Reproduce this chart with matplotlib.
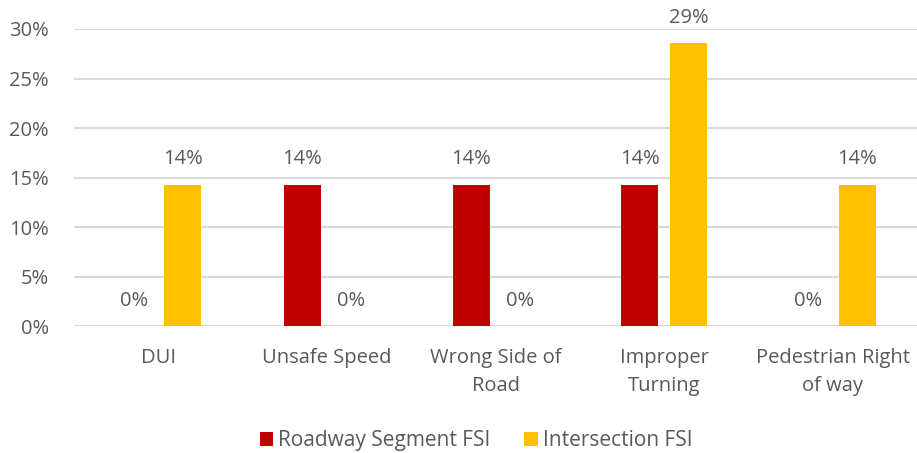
import matplotlib
matplotlib.use("Agg")
import matplotlib.pyplot as plt
import numpy as np
from matplotlib.ticker import PercentFormatter, MultipleLocator

categories = ["DUI", "Unsafe Speed", "Wrong Side of\nRoad", "Improper\nTurning", "Pedestrian Right\nof way"]
roadway = [0.0, 1/7, 1/7, 1/7, 0.0]
intersection = [1/7, 0.0, 0.0, 2/7, 1/7]
series_names = ["Roadway Segment FSI", "Intersection FSI"]
colors = ["#C00000", "#FFC000"]

plt.rcParams['font.family'] = ['Open Sans', 'DejaVu Sans']
txt = "#595959"
fs = 14.5

fig = plt.figure(figsize=(9.17, 4.53), dpi=100)
ax = fig.add_axes([0.0807, 0.280, 0.9193, 0.656])

x = np.arange(len(categories))
w = 0.22
off = 0.145
for vals, dx, c, name in [(roadway, -off, colors[0], series_names[0]), (intersection, off, colors[1], series_names[1])]:
    bars = ax.bar(x + dx, vals, width=w, color=c, label=name, zorder=3)
    for b, v in zip(bars, vals):
        ax.annotate(f"{v*100:.0f}%", (b.get_x() + b.get_width()/2, v),
                    xytext=(0, 11), textcoords="offset points",
                    ha="center", va="bottom", fontsize=fs, color=txt)

ax.set_xlim(-0.5, len(categories) - 0.5)
ax.set_ylim(0, 0.30)
ax.yaxis.set_major_locator(MultipleLocator(0.05))
ax.yaxis.set_major_formatter(PercentFormatter(1.0, decimals=0))
ax.set_xticks(x)
ax.set_xticklabels(categories, fontsize=fs, color=txt, linespacing=1.5)
ax.tick_params(axis='y', labelsize=fs, labelcolor=txt, length=0, pad=18)
ax.tick_params(axis='x', length=0, pad=16)
ax.grid(axis='y', color="#D9D9D9", linewidth=1.5, zorder=0)
for s in ax.spines.values():
    s.set_visible(False)

fig.legend(loc="lower center", bbox_to_anchor=(0.519, -0.038), ncol=2, frameon=False,
           fontsize=15, labelcolor=txt, handlelength=0.65, handleheight=0.65,
           handletextpad=0.25, columnspacing=1.6)

fig.savefig("out.png", dpi=100)
